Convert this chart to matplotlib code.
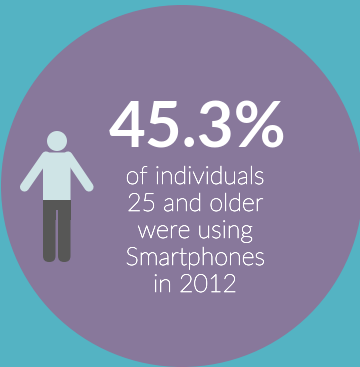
import matplotlib
matplotlib.use("Agg")
import matplotlib.pyplot as plt
import matplotlib.patheffects as pe
from matplotlib.patches import Circle, Polygon, FancyBboxPatch, Rectangle

share_label = "45.3%"
caption_lines = ["of individuals", "25 and older", "were using", "Smartphones", "in 2012"]

TEAL = "#54b3c3"
PURPLE = "#88789b"
SHIRT = "#cfe4e6"
TROUSERS = "#575756"
WIDTH, HEIGHT = 360, 367


def draw_person(ax):
    ax.add_patch(Circle((57, 141), 10, color=SHIRT, lw=0))
    # arms first so the torso sits on top
    ax.plot([46, 24.5], [156, 187], color=SHIRT, lw=6.6, solid_capstyle="round")
    ax.plot([68, 89], [156, 187], color=SHIRT, lw=6.6, solid_capstyle="round")
    ax.add_patch(Polygon([(43, 155), (46, 152.5), (68, 152.5), (70.5, 155), (70.5, 200), (43, 200)],
                         color=SHIRT, lw=0))
    ax.add_patch(Rectangle((43, 199.5), 27.5, 20, color=TROUSERS, lw=0))
    for x in (43, 58):
        ax.add_patch(FancyBboxPatch((x + 6, 215), 0.5, 41, boxstyle="round,pad=6",
                                    color=TROUSERS, lw=0))
    ax.add_patch(Rectangle((55.5, 210), 2.3, 50, color=PURPLE, lw=0))


fig = plt.figure(figsize=(WIDTH / 100, HEIGHT / 100), dpi=100, facecolor=TEAL)
ax = fig.add_axes([0, 0, 1, 1])
ax.set_xlim(0, WIDTH)
ax.set_ylim(HEIGHT, 0)
ax.axis("off")

ax.add_patch(Circle((182, 186), 181, color=PURPLE, lw=0))
draw_person(ax)

ax.text(197.5, 147, share_label, color="white", fontsize=45.7, fontweight="bold",
        family="Lato", ha="center", va="baseline")
# the light cut renders too faint at this size, so thicken it a little
for i, line in enumerate(caption_lines):
    ax.text(195, 184 + i * 27, line, color="white", fontsize=18, family="Lato",
            fontweight="light", ha="center", va="baseline",
            path_effects=[pe.withStroke(linewidth=0.45, foreground="white")])

fig.savefig("out.png", dpi=100, facecolor=TEAL)
